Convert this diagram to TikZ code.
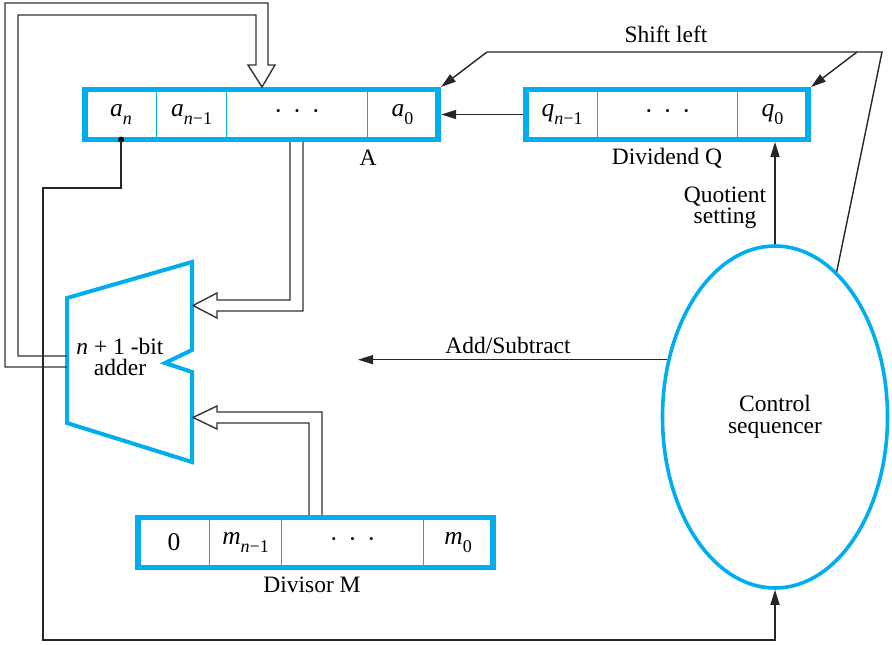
\documentclass[tikz,border=0pt]{standalone}
\usepackage{fontspec}
\setmainfont{Liberation Serif}
\usetikzlibrary{arrows.meta,shapes.geometric}
\definecolor{regblue}{HTML}{00AEEF}
% italic letter with a lowered index
\newcommand{\sbx}[2]{\textit{#1}\raisebox{-0.32em}{\fontsize{18}{18}\selectfont#2}}

\begin{document}
\begin{tikzpicture}[x=1pt,y=-1pt,
  every node/.style={font=\fontsize{23.5}{21.5}\selectfont},
  cell/.style={draw=regblue, line width=1.2pt, minimum height=49pt, inner sep=0pt,
               anchor=west, font=\fontsize{25.5}{25}\selectfont},
  regbox/.style={draw=regblue, line width=5.5pt},
  wire/.style={line width=1.4pt, draw=black!85},
  arr/.style={wire, -{Triangle[length=15pt,width=9pt]}},
  bus/.style={line width=1.4pt, draw=black!80, line join=miter},
  lbl/.style={inner sep=0pt, align=center},
]
\useasboundingbox (0,0) rectangle (892,645);

% ---------- register A ----------
\node[cell, minimum width=71pt]  (an)  at (85,114.5)  {\sbx{a}{\textit{n}}};
\node[cell, minimum width=70pt]  (an1) at (156,114.5) {\sbx{a}{\textit{n}−1}};
\node[cell, minimum width=141pt] (ad)  at (226,114.5) {·\hspace{0.4em}·\hspace{0.4em}·};
\node[cell, minimum width=70pt]  (a0)  at (367,114.5) {\sbx{a}{0}};
\draw[regbox] (an.north west) rectangle (a0.south east);
\node[lbl] (alabel) at (368,158) {A};

% ---------- register Q ----------
\node[cell, minimum width=71pt]  (qn1) at (526,114.5) {\sbx{q}{\textit{n}−1}};
\node[cell, minimum width=140pt] (qd)  at (597,114.5) {·\hspace{0.4em}·\hspace{0.4em}·};
\node[cell, minimum width=70pt]  (q0)  at (737,114.5) {\sbx{q}{0}};
\draw[regbox] (qn1.north west) rectangle (q0.south east);
\node[lbl] (qlabel) at (667,158) {Dividend Q};

% ---------- register M ----------
\node[cell, minimum width=71pt]  (m0c) at (138,542.5) {0};
\node[cell, minimum width=72pt]  (mn1) at (209,542.5) {\sbx{m}{\textit{n}−1}};
\node[cell, minimum width=142pt] (md)  at (281,542.5) {·\hspace{0.4em}·\hspace{0.4em}·};
\node[cell, minimum width=69pt]  (m0)  at (423,542.5) {\sbx{m}{0}};
\draw[regbox] (m0c.north west) rectangle (m0.south east);
\node[lbl] (mlabel) at (312,585) {Divisor M};

% ---------- adder ----------
\draw[draw=regblue, line width=4pt, line join=miter]
  (67,298) -- (192,262) -- (192,350) -- (165,363) -- (192,372)
  -- (192,462) -- (67,423) -- cycle;
\node[lbl] (addtxt) at (120,357) {\textit{n} + 1 -bit\\adder};

% ---------- control sequencer ----------
\node[ellipse, draw=regblue, line width=3.6pt, minimum width=225pt,
      minimum height=342pt, inner sep=0pt, align=center]
  (ctrl) at (775,417) {Control\\sequencer};

% ---------- adder output fed back into A (double bus) ----------
\draw[bus]
  (67,356) -- (18,356) -- (18,15) -- (256,15) -- (256,65) -- (248,65)
  -- (262,87) -- (275,65) -- (268,65) -- (268,3) -- (5,3) -- (5,367)
  -- (67,367);

% ---------- A into upper adder input (double bus) ----------
\draw[bus]
  (290,142) -- (290,300) -- (217,300) -- (217,293) -- (193,305.5)
  -- (217,318) -- (217,311) -- (303,311) -- (303,142);

% ---------- M into lower adder input (double bus) ----------
\draw[bus]
  (309,515) -- (309,423) -- (217,423) -- (217,429) -- (193,417.5)
  -- (217,406) -- (217,412) -- (322,412) -- (322,515);

% ---------- sign bit a_n to the sequencer ----------
\coordinate (bl) at (43,640);
\fill (an.south) circle (3pt);
\draw[arr] (an.south) |- (43,188) -- (bl) -| (ctrl.south);

% ---------- Q shifts into A ----------
\draw[arr] ([xshift=-3pt]qn1.west) -- ([xshift=3pt]a0.east);

% ---------- shift left control ----------
\coordinate (slR) at (882,52);
\coordinate (slM) at (857,52);
\coordinate (slL) at (487,52);
\coordinate (aTip) at (441,87);
\coordinate (qTip) at (811,87);
\draw[wire] (ctrl.67) -- (slR) -- (slL);
\draw[arr] (slL) -- (aTip);
\draw[arr] (slM) -- (qTip);
\node[lbl] (shl) at (666,34) {Shift left};

% ---------- quotient setting ----------
\coordinate (qlow) at (0,142);
\draw[arr] (ctrl.north) -- (ctrl.north |- qlow);
\node[lbl] (qset) at (725,208) {Quotient\\setting};

% ---------- add / subtract ----------
\coordinate (asEnd) at (358,360);
\draw[arr] (ctrl.152) -- (ctrl.152 -| asEnd);
\node[lbl] (astxt) at (508,345) {Add/Subtract};
\end{tikzpicture}
\end{document}
